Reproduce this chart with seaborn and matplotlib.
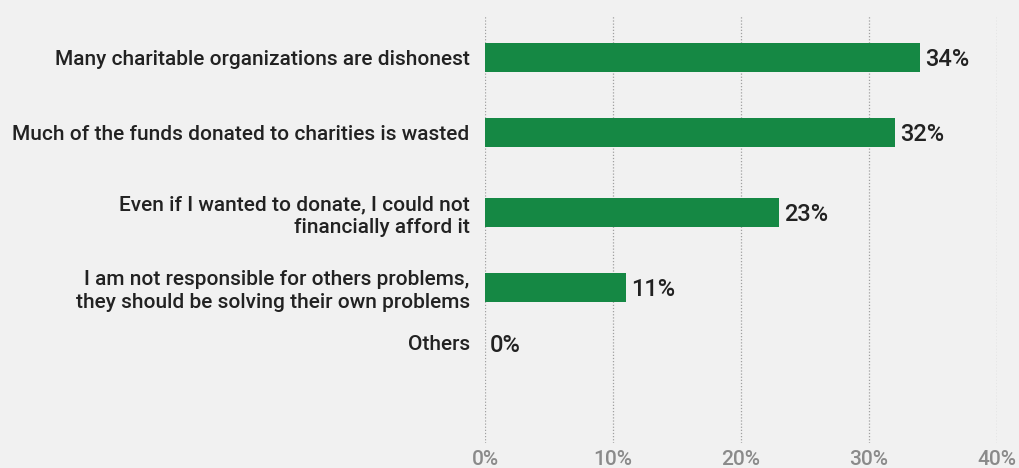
import matplotlib
matplotlib.use("Agg")
import matplotlib.pyplot as plt
import seaborn as sns
import pandas as pd

categories = [
    "Many charitable organizations are dishonest",
    "Much of the funds donated to charities is wasted",
    "Even if I wanted to donate, I could not\nfinancially afford it",
    "I am not responsible for others problems,\nthey should be solving their own problems",
    "Others",
]
values = [34, 32, 23, 11, 0]
x_ticks = [0, 10, 20, 30, 40]
x_tick_labels = ["0%", "10%", "20%", "30%", "40%"]

# layout: row centres (pixels from top of plotting area)
row_pos = [42, 117, 197, 272, 328]

BG = "#f1f1f1"
GREEN = "#158844"

sns.set_theme(style="white")
plt.rcParams["font.family"] = ["Roboto", "DejaVu Sans"]

df = pd.DataFrame({"cat": categories, "val": values, "pos": row_pos})

fig = plt.figure(figsize=(10.19, 4.68), dpi=100, facecolor=BG)
ax = fig.add_axes([485 / 1019, 1 - 443 / 468, (997 - 485) / 1019, (443 - 15) / 468])
ax.set_facecolor(BG)

sns.barplot(data=df, x="val", y="pos", orient="h", native_scale=True,
            color=GREEN, saturation=1, width=29 / 56, linewidth=0,
            ax=ax, zorder=3)

ax.set_xlim(0, 40)
ax.set_ylim(428, 0)
ax.set_xticks(x_ticks)
ax.set_xticklabels(x_tick_labels)
ax.set_yticks(row_pos)
ax.set_yticklabels(categories, ha="right", linespacing=1.25)
ax.tick_params(axis="y", length=0, pad=11, labelsize=15, labelcolor="#222222")
ax.tick_params(axis="x", length=0, pad=5, labelsize=15, labelcolor="#8a8a8a")
for lab in ax.get_yticklabels():
    lab.set_fontweight("medium")
for lab in ax.get_xticklabels():
    lab.set_fontweight("medium")
ax.set_xlabel("")
ax.set_ylabel("")

for s in ax.spines.values():
    s.set_visible(False)
ax.grid(False)
for t in x_ticks:
    ax.axvline(t, color="#a0a0a0", linestyle=(0, (1, 1.5)), linewidth=0.9, zorder=1)

for v, p in zip(values, row_pos):
    ax.text(v + 0.4, p + 2, f"{v}%", va="center", ha="left",
            fontsize=17, color="#222222", fontweight="medium", zorder=4)

fig.savefig("out.png", dpi=100, facecolor=BG)
